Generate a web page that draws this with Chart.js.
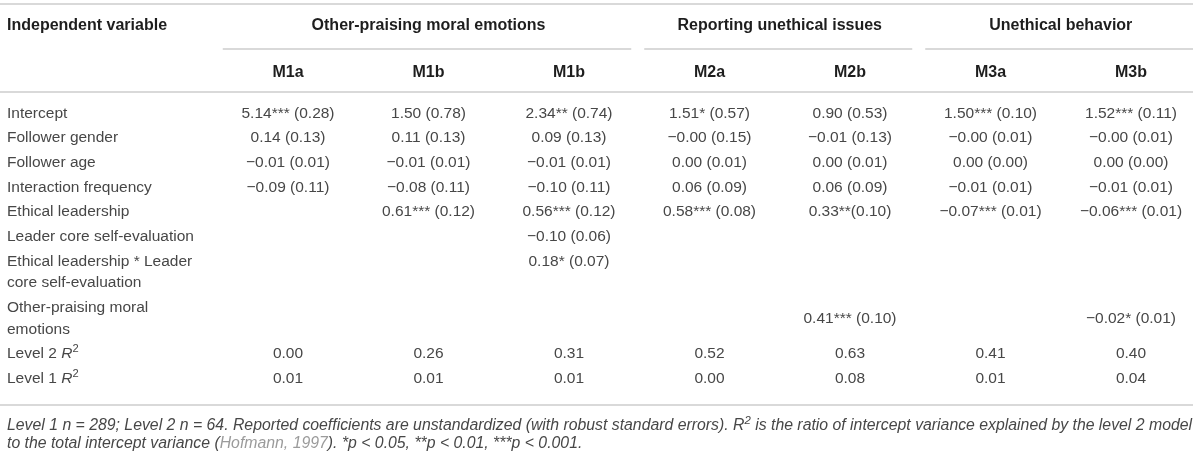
<!DOCTYPE html>
<html lang="en">

<head>
    <meta charset="UTF-8">
    <meta name="viewport" content="width=device-width, initial-scale=1.0">
    <title>Multilevel models</title>
    <style>
        html, body { margin: 0; padding: 0; background: #fff; }
        #caja { width: 1200px; height: 471px; }
    </style>
    <script src="https://cdn.jsdelivr.net/npm/chart.js@4.4.1/dist/chart.umd.min.js"></script>
</head>

<body>
    <div id="caja"><canvas id="tabla"></canvas></div>
    <script>
        // Column headers (models) and the outcome groups above them
        const models = ['M1a', 'M1b', 'M1b', 'M2a', 'M2b', 'M3a', 'M3b'];
        const groupTitles = ['Other-praising moral emotions', 'Reporting unethical issues', 'Unethical behavior'];
        const groupCols = [[0, 2], [3, 4], [5, 6]];
        const firstHeader = 'Independent variable';

        // Row labels, a row can wrap on two lines
        const rowLabels = [
            ['Intercept'],
            ['Follower gender'],
            ['Follower age'],
            ['Interaction frequency'],
            ['Ethical leadership'],
            ['Leader core self-evaluation'],
            ['Ethical leadership * Leader', 'core self-evaluation'],
            ['Other-praising moral', 'emotions'],
            ['Level 2 R²'],
            ['Level 1 R²']
        ];

        // Coefficients (robust SE) per model, '' = empty cell
        const colM1a = ['5.14*** (0.28)', '0.14 (0.13)', '−0.01 (0.01)', '−0.09 (0.11)', '', '', '', '', '0.00', '0.01'];
        const colM1b = ['1.50 (0.78)', '0.11 (0.13)', '−0.01 (0.01)', '−0.08 (0.11)', '0.61*** (0.12)', '', '', '', '0.26', '0.01'];
        const colM1bInt = ['2.34** (0.74)', '0.09 (0.13)', '−0.01 (0.01)', '−0.10 (0.11)', '0.56*** (0.12)', '−0.10 (0.06)', '0.18* (0.07)', '', '0.31', '0.01'];
        const colM2a = ['1.51* (0.57)', '−0.00 (0.15)', '0.00 (0.01)', '0.06 (0.09)', '0.58*** (0.08)', '', '', '', '0.52', '0.00'];
        const colM2b = ['0.90 (0.53)', '−0.01 (0.13)', '0.00 (0.01)', '0.06 (0.09)', '0.33**(0.10)', '', '', '0.41*** (0.10)', '0.63', '0.08'];
        const colM3a = ['1.50*** (0.10)', '−0.00 (0.01)', '0.00 (0.00)', '−0.01 (0.01)', '−0.07*** (0.01)', '', '', '', '0.41', '0.01'];
        const colM3b = ['1.52*** (0.11)', '−0.00 (0.01)', '0.00 (0.00)', '−0.01 (0.01)', '−0.06*** (0.01)', '', '', '−0.02* (0.01)', '0.40', '0.04'];
        const columns = [colM1a, colM1b, colM1bInt, colM2a, colM2b, colM3a, colM3b];

        // Table note
        const noteLine1 = 'Level 1 n = 289; Level 2 n = 64. Reported coefficients are unstandardized (with robust standard errors). R² is the ratio of intercept variance explained by the level 2 model';
        const noteLine2 = ['to the total intercept variance (', 'Hofmann, 1997', '). *p < 0.05, **p < 0.01, ***p < 0.001.'];

        // rows whose value sits between the two label lines
        const middleRows = [7];

        // vertical units: one text line = 1, plus a small gap per row
        const GAP = 0.14;
        const rowTop = [];
        let acc = 0;
        rowLabels.forEach(l => { rowTop.push(acc); acc += l.length + GAP; });
        const totalUnits = acc;
        const lineY = (r, k) => rowTop[r] + GAP / 2 + 0.5 + k;
        const valueY = (r) => middleRows.includes(r) ? rowTop[r] + (rowLabels[r].length + GAP) / 2 : lineY(r, 0);

        const FONT = '"Liberation Sans", Arial, sans-serif';
        const TXT = '#474747';
        const HEAD = '#1e1e1e';
        const LINE = '#d9d9d9';

        // split text into runs so R² gets an italic R and a raised 2
        function runsOf(text) {
            const out = [];
            text.split(/(R²)/).forEach(p => {
                if (p === 'R²') {
                    out.push({ text: 'R', italic: true });
                    out.push({ text: '2', sup: true });
                } else if (p) {
                    out.push({ text: p });
                }
            });
            return out;
        }

        function drawRuns(ctx, runs, x, y, size, opts) {
            const o = opts || {};
            const fontOf = r => (o.italic || r.italic ? 'italic ' : '') + (o.bold ? 'bold ' : '') +
                (r.sup ? size * 0.72 : size) + 'px ' + FONT;
            let total = 0;
            runs.forEach(r => { ctx.font = fontOf(r); r.w = ctx.measureText(r.text).width; total += r.w; });
            let cx = o.align === 'center' ? x - total / 2 : x;
            ctx.textAlign = 'left';
            ctx.textBaseline = 'middle';
            runs.forEach(r => {
                ctx.font = fontOf(r);
                ctx.fillStyle = r.color || o.color || TXT;
                ctx.fillText(r.text, cx, r.sup ? y - size * 0.33 : y);
                cx += r.w;
            });
            return total;
        }

        function hline(ctx, x1, x2, y) {
            ctx.beginPath();
            ctx.moveTo(x1, y);
            ctx.lineTo(x2, y);
            ctx.stroke();
        }

        const tablePlugin = {
            id: 'tabla',
            afterDatasetsDraw(chart) {
                const ctx = chart.ctx;
                ctx.save();
                chart.data.datasets.forEach((ds, i) => {
                    const meta = chart.getDatasetMeta(i);
                    meta.data.forEach((pt, j) => {
                        drawRuns(ctx, runsOf(ds.data[j].txt), pt.x, pt.y, 15.5, { align: 'center' });
                    });
                });
                ctx.restore();
            },
            afterDraw(chart) {
                const ctx = chart.ctx;
                const { x, y } = chart.scales;
                const area = chart.chartArea;
                const right = chart.width - 7;
                const half = (x.getPixelForValue(1) - x.getPixelForValue(0)) / 2;
                ctx.save();

                // rules
                ctx.strokeStyle = LINE;
                ctx.lineWidth = 2;
                hline(ctx, 0, right, area.top - 97);
                hline(ctx, 0, right, area.top - 9);
                hline(ctx, 0, right, area.bottom + 14);
                groupCols.forEach(g => {
                    const a = x.getPixelForValue(g[0]) - half + 5;
                    const b = Math.min(x.getPixelForValue(g[1]) + half - 8, right);
                    hline(ctx, a, b, area.top - 52);
                });

                // header texts
                drawRuns(ctx, [{ text: firstHeader }], 7, area.top - 75, 16, { bold: true, color: HEAD });
                groupTitles.forEach((t, i) => {
                    const a = x.getPixelForValue(groupCols[i][0]);
                    const b = x.getPixelForValue(groupCols[i][1]);
                    drawRuns(ctx, [{ text: t }], (a + b) / 2, area.top - 75, 16, { bold: true, color: HEAD, align: 'center' });
                });
                models.forEach((m, i) => {
                    drawRuns(ctx, [{ text: m }], x.getPixelForValue(i), area.top - 28, 16, { bold: true, color: HEAD, align: 'center' });
                });

                // row labels
                rowLabels.forEach((lines, r) => {
                    lines.forEach((t, k) => {
                        drawRuns(ctx, runsOf(t), 7, y.getPixelForValue(lineY(r, k)), 15.5);
                    });
                });

                // note, fitted to the table width
                const probe = runsOf(noteLine1);
                let fs = 14;
                const w = drawRuns(ctx, probe.map(r => ({ ...r, color: 'rgba(0,0,0,0)' })), -5000, -50, fs, { italic: true });
                fs = fs * (right - 7) / w;
                drawRuns(ctx, runsOf(noteLine1), 7, area.bottom + 35, fs, { italic: true });
                drawRuns(ctx, [
                    { text: noteLine2[0] },
                    { text: noteLine2[1], color: '#9b9b9b' },
                    { text: noteLine2[2] }
                ], 7, area.bottom + 53, fs, { italic: true });

                ctx.restore();
            }
        };

        // one dataset per model column, points sit on the cells
        const datasets = columns.map((col, c) => ({
            label: models[c],
            data: col.map((v, r) => v ? { x: c, y: valueY(r), txt: v } : null).filter(Boolean),
            pointRadius: 0,
            pointHoverRadius: 0,
            showLine: false
        }));

        const $tabla = document.querySelector('#tabla');
        const tabla = new Chart($tabla, {
            type: 'scatter',
            data: { datasets: datasets },
            options: {
                responsive: true,
                maintainAspectRatio: false,
                animation: false,
                events: [],
                layout: { padding: { left: 288, right: 69, top: 101, bottom: 80 } },
                plugins: { legend: { display: false }, tooltip: { enabled: false } },
                scales: {
                    x: { type: 'linear', min: 0, max: models.length - 1, display: false },
                    y: { type: 'linear', min: 0, max: totalUnits, reverse: true, display: false }
                }
            },
            plugins: [tablePlugin]
        });
    </script>
</body>

</html>
